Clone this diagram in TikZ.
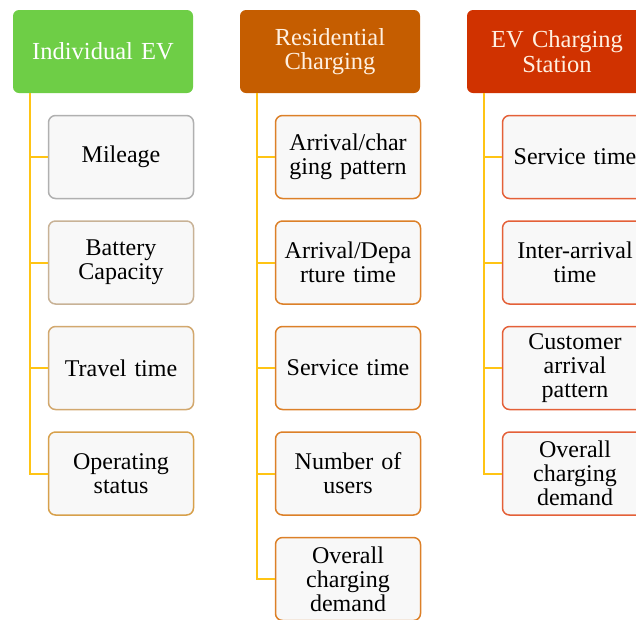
\documentclass[tikz,border=0pt]{standalone}
\usepackage{fontspec}
\setmainfont{Liberation Serif}
\definecolor{hgreen}{RGB}{110,206,70}
\definecolor{horange}{RGB}{197,93,0}
\definecolor{hred}{RGB}{208,50,0}
\definecolor{htext}{RGB}{255,240,225}
\definecolor{conncol}{RGB}{255,196,20}
\definecolor{boxfill}{RGB}{248,248,248}
\definecolor{bgray}{RGB}{176,176,176}
\definecolor{btan}{RGB}{200,178,150}
\definecolor{btan2}{RGB}{210,168,110}
\definecolor{btan3}{RGB}{215,160,75}
\definecolor{borange}{RGB}{220,128,40}
\definecolor{bred}{RGB}{228,96,56}
\tikzset{
  head/.style={rounded corners=6pt, minimum width=180pt, minimum height=83pt,
    text width=176pt, align=center, inner sep=0pt, text=htext,
    font=\fontsize{24.5}{24.5}\selectfont},
  item/.style={draw, line width=1.5pt, fill=boxfill, rounded corners=7pt,
    minimum width=145pt, minimum height=83pt, text width=144pt, align=center,
    inner sep=0pt, font=\fontsize{24}{24}\selectfont},
  conn/.style={draw=conncol, line width=2pt}
}
\begin{document}
\begin{tikzpicture}[x=1pt,y=1pt]
\useasboundingbox (0,0) rectangle (636,-619);
\clip (0,0) rectangle (636,-619);
% headers
\node[head, fill=hgreen, text=white] (h1) at (103,-51.5) {Individual EV};
\node[head, fill=horange] (h2) at (330,-51.5) {Residential\\Charging};
\node[head, fill=hred] (h3) at (557,-51.5) {EV Charging\\Station};
% column 1
\node[item, draw=bgray] (a1) at (121,-157) {Mileage};
\node[item, draw=btan] (a2) at (121,-262.5) {Battery\\Capacity};
\node[item, draw=btan2] (a3) at (121,-368) {Travel time};
\node[item, draw=btan3] (a4) at (121,-473.5) {Operating\\status};
% column 2
\node[item, draw=borange] (b1) at (348,-157) {Arrival/char\\ging pattern};
\node[item, draw=borange] (b2) at (348,-262.5) {Arrival/Depa\\rture time};
\node[item, draw=borange] (b3) at (348,-368) {Service time};
\node[item, draw=borange] (b4) at (348,-473.5) {Number of\\users};
\node[item, draw=borange] (b5) at (348,-579) {Overall\\charging\\demand};
% column 3
\node[item, draw=bred] (c1) at (575,-157) {Service time};
\node[item, draw=bred] (c2) at (575,-262.5) {Inter-arrival\\time};
\node[item, draw=bred] (c3) at (575,-368) {Customer\\arrival\\pattern};
\node[item, draw=bred] (c4) at (575,-473.5) {Overall\\charging\\demand};
% connectors
\draw[conn] ([xshift=17pt]h1.south west) |- (a4.west);
\foreach \n in {a1,a2,a3} \draw[conn] (\n.west) -- ++(-18,0);
\draw[conn] ([xshift=17pt]h2.south west) |- (b5.west);
\foreach \n in {b1,b2,b3,b4} \draw[conn] (\n.west) -- ++(-18,0);
\draw[conn] ([xshift=17pt]h3.south west) |- (c4.west);
\foreach \n in {c1,c2,c3} \draw[conn] (\n.west) -- ++(-18,0);
\end{tikzpicture}
\end{document}
